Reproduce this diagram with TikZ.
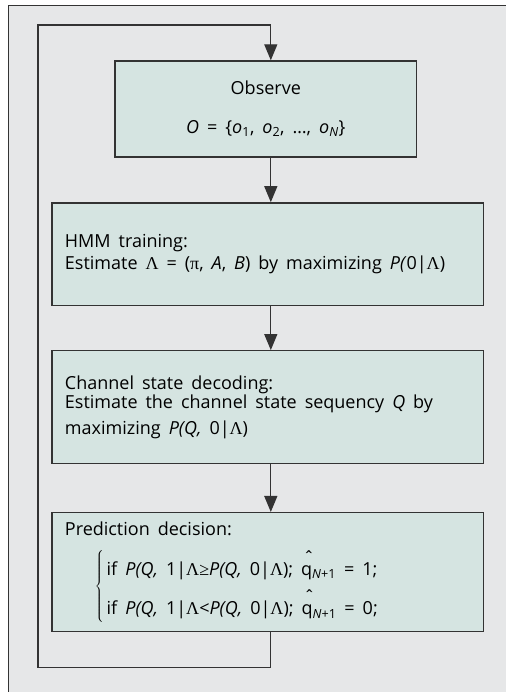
\documentclass[tikz,border=0pt]{standalone}
\usepackage{fontspec}
\setmainfont{Open Sans}
\newfontfamily\greekfont{Liberation Serif}
\usetikzlibrary{arrows.meta, positioning, calc}
\usepackage{xcolor}
\definecolor{panelgrey}{HTML}{E6E7E8}
\definecolor{boxgreen}{HTML}{D5E4E1}
\definecolor{linegrey}{HTML}{333333}
\newcommand{\Lam}{{\greekfont Λ}}
\newcommand{\piup}{{\greekfont π}}
\newcommand{\geup}{{\greekfont ≥}}
\newcommand{\hatq}{q\llap{\raisebox{0.62em}{ˆ}\hspace{-0.12em}}}
\newcommand{\widewords}{\spaceskip=8pt\relax}

\begin{document}
\begin{tikzpicture}[x=1pt,y=-1pt,
  stepbox/.style={draw=linegrey,line width=1.3pt,fill=boxgreen,inner xsep=13pt,inner ysep=0pt,
    text width=406pt,align=left,font=\fontsize{18}{22}\selectfont,
    execute at begin node=\widewords},
  flow/.style={draw=linegrey,line width=1.3pt,-{Triangle[length=16pt,width=13pt]}}]
  % panel
  \fill[white] (0,0) rectangle (506,692);
  \fill[panelgrey] (9,6) rectangle (506,692);
  \draw[linegrey,line width=1pt] (9,692) -- (9,6) -- (506,6);
  \coordinate (looptr) at (271,25);
  \coordinate (loopbl) at (38,668);
  % boxes
  \node[stepbox,text width=276pt,align=center,minimum height=96pt] (obs) at (266,109)
    {Observe\\[17pt]\textit{O} = \{\textit{o}\textsubscript{1}, \textit{o}\textsubscript{2}, \dots, \textit{o}\textsubscript{\textit{N}}\}};
  \node[stepbox,minimum height=103pt] (train) at (268,254.5)
    {HMM training:\\Estimate \Lam{} = (\piup, \textit{A}, \textit{B}) by maximizing \textit{P(}0|\Lam)};
  \node[stepbox,minimum height=113pt] (decode) at (268,407.5)
    {Channel state decoding:\\[-3pt]Estimate the channel state sequency \textit{Q} by\\[4pt]maximizing \textit{P(Q,} 0|\Lam)};
  \node[stepbox,minimum height=119pt] (predict) at (268,572.5)
    {Prediction decision:\\[13pt]
     \hspace*{30pt}$\left\{\,\begin{tabular}{@{}l@{}}
       if \textit{P(Q,} 1|\Lam\geup\textit{P(Q,} 0|\Lam); \hatq\textsubscript{\textit{N}+1} = 1;\\[8pt]
       if \textit{P(Q,} 1|\Lam<\textit{P(Q,} 0|\Lam); \hatq\textsubscript{\textit{N}+1} = 0;
     \end{tabular}\right.$};
  % connectors
  \draw[flow] (obs.south -| looptr) -- (train.north -| looptr);
  \draw[flow] (train.south -| looptr) -- (decode.north -| looptr);
  \draw[flow] (decode.south -| looptr) -- (predict.north -| looptr);
  \draw[flow] (predict.south -| looptr) |- (loopbl) |- (looptr) -- (obs.north -| looptr);
\end{tikzpicture}
\end{document}
